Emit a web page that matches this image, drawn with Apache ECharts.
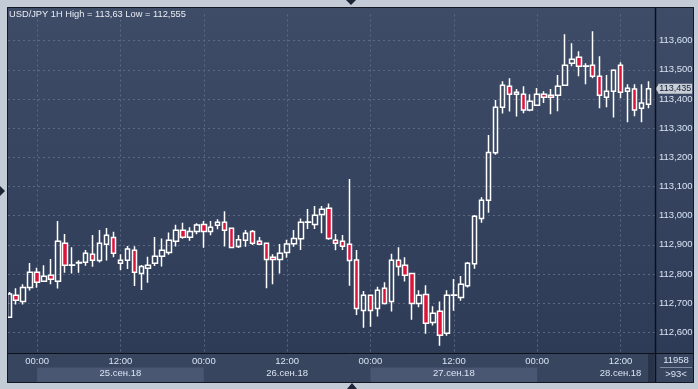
<!DOCTYPE html>
<html><head><meta charset="utf-8">
<script src="https://cdn.jsdelivr.net/npm/echarts@6/dist/echarts.min.js"></script>
<style>html,body{margin:0;padding:0;background:#c3cbd6;overflow:hidden}#c{width:698px;height:389px}</style>
</head><body><div id="c"></div>
<script>
// ---- data ----
const firstDay = 24, firstHour = 20, candleCount = 93;
const categories = [];
for (let i = 0; i < candleCount; i++) {
  const h = firstHour + i;
  const d = firstDay + Math.floor(h / 24);
  const hh = h % 24;
  categories.push(d + '.09.18 ' + String(hh).padStart(2, '0') + ':00');
}
const open = [112.652,112.727,112.706,112.754,112.806,112.775,112.796,112.775,112.905,112.830,
112.838,112.840,112.868,112.846,112.902,112.925,112.837,112.847,112.881,112.802,
112.820,112.837,112.861,112.874,112.912,112.950,112.926,112.946,112.970,112.946,
112.967,112.977,112.957,112.894,112.916,112.946,112.912,112.905,112.857,112.850,
112.874,112.904,112.921,112.977,112.970,113.004,113.025,112.916,112.912,112.902,
112.848,112.675,112.727,112.682,112.751,112.706,112.847,112.830,112.802,112.699,
112.730,112.634,112.672,112.597,112.727,112.719,112.760,112.835,112.990,113.053,
113.216,113.372,113.444,113.416,113.416,113.362,113.379,113.416,113.413,113.413,
113.447,113.523,113.543,113.512,113.516,113.478,113.406,113.427,113.516,113.427,
113.434,113.368,113.382];
const close = [112.731,112.710,112.754,112.806,112.772,112.792,112.782,112.912,112.830,112.831,
112.839,112.871,112.847,112.905,112.933,112.871,112.847,112.886,112.806,112.826,
112.830,112.861,112.881,112.916,112.950,112.926,112.946,112.968,112.946,112.960,
112.977,112.950,112.891,112.917,112.940,112.905,112.902,112.850,112.850,112.871,
112.903,112.922,112.977,112.978,113.001,113.022,112.922,112.905,112.895,112.846,
112.682,112.727,112.675,112.744,112.699,112.847,112.826,112.796,112.699,112.727,
112.631,112.665,112.590,112.727,112.728,112.765,112.837,112.998,113.053,113.217,
113.372,113.447,113.416,113.423,113.362,113.392,113.416,113.406,113.406,113.444,
113.516,113.536,113.512,113.513,113.478,113.413,113.427,113.499,113.423,113.437,
113.362,113.386,113.435];
const high = [112.738,112.751,112.765,112.838,112.821,112.830,112.851,112.982,112.937,112.892,
112.847,112.882,112.934,112.951,112.958,112.945,112.868,112.896,112.895,112.831,
112.859,112.927,112.922,112.942,112.969,112.976,112.960,112.974,112.982,112.982,
112.988,113.015,112.959,112.934,112.951,112.951,112.927,112.906,112.868,112.903,
112.917,112.951,112.990,113.023,113.033,113.033,113.042,112.937,112.934,113.126,
112.882,112.742,112.728,112.756,112.772,112.869,112.892,112.857,112.803,112.744,
112.761,112.689,112.706,112.744,112.783,112.793,112.841,113.002,113.063,113.277,
113.397,113.461,113.471,113.434,113.444,113.416,113.438,113.427,113.434,113.482,
113.622,113.591,113.564,113.523,113.632,113.547,113.482,113.502,113.526,113.451,
113.451,113.451,113.461];
const low = [112.649,112.695,112.695,112.743,112.753,112.773,112.765,112.750,112.804,112.802,
112.804,112.828,112.825,112.839,112.846,112.857,112.814,112.817,112.759,112.745,
112.770,112.827,112.826,112.866,112.894,112.921,112.914,112.936,112.890,112.933,
112.953,112.894,112.889,112.889,112.893,112.899,112.901,112.751,112.765,112.802,
112.856,112.893,112.882,112.954,112.954,112.940,112.917,112.881,112.882,112.760,
112.659,112.616,112.619,112.654,112.695,112.671,112.794,112.774,112.643,112.686,
112.595,112.623,112.554,112.588,112.674,112.708,112.754,112.818,112.976,113.010,
113.209,113.350,113.357,113.340,113.351,113.358,113.376,113.386,113.348,113.358,
113.446,113.512,113.478,113.451,113.471,113.368,113.372,113.337,113.403,113.320,
113.341,113.320,113.368];
const titleText = 'USD/JPY 1H High = 113,63 Low = 112,555';
const monthLabel = 'сен';
const yMin = 112.53, yMax = 113.69;
const lastClose = close[close.length - 1];
const barCountText = '11958';
const visibleText = '>93<';

// ---- chart ----
const FONT = "'Liberation Sans', Arial, sans-serif";
const TXT = '#d8e3f3';
const GRID = '#5b6983';
const fmtNum = v => Number(v).toFixed(3).replace('.', ',');
const every12 = idx => (idx - 4) % 12 === 0;
const every24 = idx => (idx - 4) % 24 === 0;
const ohlc = open.map((o, i) => [o, close[i], low[i], high[i]]);

const chart = echarts.init(document.getElementById('c'), null, {renderer: 'canvas'});
const G = echarts.graphic;
chart.setOption({
  animation: false,
  backgroundColor: '#c3cbd6',
  title: {text: titleText, left: 9, top: 10, padding: 0,
    textStyle: {color: '#e9eef5', fontSize: 9.3, fontWeight: 'normal', fontFamily: FONT}},
  grid: [
    {left: 9.3, width: 639, top: 14.456, height: 338.26, outerBoundsMode: 'none', containLabel: false},
    {left: 8, width: 647, top: 14.456, height: 338.26, outerBoundsMode: 'none', containLabel: false},
    {left: 9.3, width: 639, top: 367.5, height: 15, outerBoundsMode: 'none', containLabel: false}
  ],
  xAxis: [
    {gridIndex: 0, type: 'category', data: categories, boundaryGap: false,
      axisLine: {show: false}, axisTick: {show: false},
      splitLine: {show: true, interval: every12, lineStyle: {color: GRID, type: [2, 3], width: 1}},
      axisLabel: {interval: every12, color: TXT, fontSize: 9.5, fontFamily: FONT, lineHeight: 12, margin: 3,
        formatter: v => {
          const t = v.slice(-5);
          return t === '12:00' ? t + '\n' + v.slice(0, 2) + '.' + monthLabel + '.18' : t;
        }}},
    {gridIndex: 1, type: 'value', min: 0, max: 1, show: false},
    {gridIndex: 2, type: 'category', data: categories, boundaryGap: false,
      axisLine: {show: false}, axisTick: {show: false}, axisLabel: {show: false}, splitLine: {show: false},
      splitArea: {show: true, interval: every24, areaStyle: {color: ['#4a5773', 'rgba(0,0,0,0)']}}}
  ],
  yAxis: [
    {gridIndex: 0, type: 'value', min: yMin, max: yMax, show: false},
    {gridIndex: 1, type: 'value', min: yMin, max: yMax, position: 'right', minInterval: 0.1, maxInterval: 0.1,
      axisLine: {show: false}, axisTick: {show: false},
      splitLine: {show: true, showMinLine: false, showMaxLine: false, lineStyle: {color: GRID, type: [2, 3], width: 1}},
      axisLabel: {showMinLabel: false, showMaxLabel: false, formatter: fmtNum, color: TXT, fontSize: 9.5,
        fontFamily: FONT, margin: 4}},
    {gridIndex: 2, type: 'value', min: 0, max: 1, show: false}
  ],
  series: [{
    type: 'candlestick', xAxisIndex: 0, yAxisIndex: 0, data: ohlc, barWidth: 5, clip: false,
    itemStyle: {color: 'rgba(0,0,0,0)', color0: '#dc143c', borderColor: '#ffffff', borderColor0: '#ffffff',
      borderColorDoji: '#ffffff', borderWidth: 1.5},
    markLine: {silent: true, precision: 3, symbol: ['none', 'none'], data: [{yAxis: lastClose}],
      lineStyle: {color: 'rgba(0,0,0,0)', width: 0, opacity: 1},
      label: {show: true, position: 'end', distance: 10, formatter: () => fmtNum(lastClose),
        backgroundColor: '#c9ced6', color: '#0e1e36', fontSize: 9, fontFamily: FONT,
        padding: [1, 1, 0, 1], lineHeight: 9, opacity: 1}},
    markPoint: {silent: true, symbol: 'triangle', symbolSize: [10, 4], symbolRotate: 90, symbolOffset: [9, 0],
      data: [{coord: [categories[categories.length - 1], lastClose]}],
      label: {show: false}, itemStyle: {color: '#c9ced6'}}
  }],
  graphic: [
    {type: 'rect', z: -10, silent: true, shape: {x: 7, y: 7, width: 687, height: 346},
      style: {fill: new G.LinearGradient(0, 0, 0, 1, [{offset: 0, color: '#3f4c67'}, {offset: 1, color: '#2e3b57'}])}},
    {type: 'rect', z: -10, silent: true, shape: {x: 7, y: 353, width: 687, height: 30}, style: {fill: '#38455f'}},
    {type: 'rect', z: 5, silent: true, shape: {x: 648, y: 354, width: 6, height: 28}, style: {fill: '#28334a'}},
    {type: 'rect', z: 99, silent: true, shape: {x: 0, y: 0, width: 7, height: 389}, style: {fill: '#c3cbd6'}},
    {type: 'rect', z: 100, silent: true, shape: {x: 7.5, y: 7.5, width: 686, height: 375},
      style: {fill: 'none', stroke: '#121722', lineWidth: 1}},
    {type: 'line', z: 100, silent: true, shape: {x1: 655.5, y1: 7.5, x2: 655.5, y2: 382.5},
      style: {stroke: '#0c1019', lineWidth: 1.5}},
    {type: 'line', z: 100, silent: true, shape: {x1: 7.5, y1: 353.5, x2: 693.5, y2: 353.5},
      style: {stroke: '#0c1019', lineWidth: 1}},
    {type: 'polygon', z: 100, silent: true, shape: {points: [[346, 0], [356, 0], [351, 5]]}, style: {fill: '#1c2536'}},
    {type: 'polygon', z: 100, silent: true, shape: {points: [[0, 186], [0, 196], [5, 191]]}, style: {fill: '#1c2536'}},
    {type: 'polygon', z: 100, silent: true, shape: {points: [[347, 389], [357, 389], [352, 383]]}, style: {fill: '#1c2536'}},
    {type: 'text', z: 100, silent: true, style: {text: barCountText, x: 676, y: 360, fill: TXT, font: '9.5px ' + FONT,
      textAlign: 'center', textVerticalAlign: 'middle', align: 'center', verticalAlign: 'middle'}},
    {type: 'line', z: 100, silent: true, shape: {x1: 660, y1: 367.5, x2: 692, y2: 367.5}, style: {stroke: '#7f8ba0', lineWidth: 1}},
    {type: 'text', z: 100, silent: true, style: {text: visibleText, x: 676, y: 374, fill: TXT, font: '9.5px ' + FONT,
      textAlign: 'center', textVerticalAlign: 'middle', align: 'center', verticalAlign: 'middle'}}
  ]
});
</script>
</body></html>
